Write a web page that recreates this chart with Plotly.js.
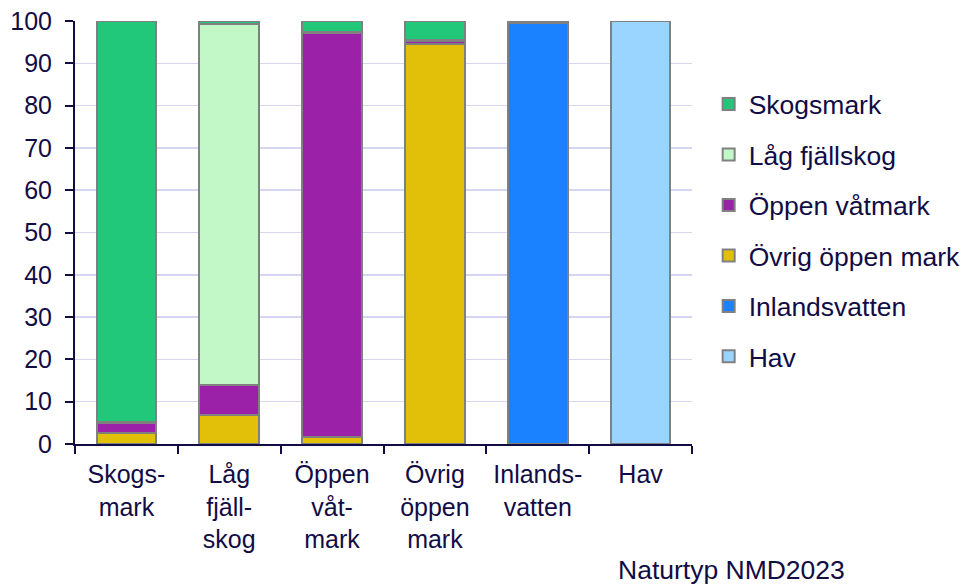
<!DOCTYPE html>
<html>
<head>
<meta charset="utf-8">
<script src="https://cdn.plot.ly/plotly-3.0.1.min.js"></script>
<style>html,body{margin:0;padding:0;background:#fff;}#chart{width:969px;height:585px;}</style>
</head>
<body>
<div id="chart"></div>
<script>
const categories = ["Skogs-<br>mark", "Låg<br>fjäll-<br>skog", "Öppen<br>våt-<br>mark", "Övrig<br>öppen<br>mark", "Inlands-<br>vatten", "Hav"];
const hav = [0, 0, 0, 0, 0, 100];
const inlandsvatten = [0, 0, 0, 0, 99.6, 0];
const ovrigOppenMark = [2.5, 6.9, 1.7, 94.6, 0, 0];
const oppenVatmark = [2.4, 7.0, 95.4, 0.7, 0, 0];
const lagFjallskog = [0.3, 85.5, 0.3, 0.3, 0, 0];
const skogsmark = [94.8, 0.6, 2.6, 4.4, 0.4, 0];
const axisTitle = "Naturtyp NMD2023";

const seriesNames = ["Hav", "Inlandsvatten", "Övrig öppen mark", "Öppen våtmark", "Låg fjällskog", "Skogsmark"];
const seriesValues = [hav, inlandsvatten, ovrigOppenMark, oppenVatmark, lagFjallskog, skogsmark];
const seriesColors = ["#99d5ff", "#1b82ff", "#e2c00a", "#9b22a8", "#c2f8c8", "#22c87a"];

const navy = "#120c45";
const fs = 25;
const fsText = 26.5;
const traces = seriesNames.map((n, i) => ({
  type: "bar",
  name: n,
  x: categories,
  y: seriesValues[i],
  legendgroup: "g" + i,
  legendrank: 100 - i,
  marker: {color: seriesColors[i], line: {color: "#808080", width: 2}},
  hoverinfo: "name+y"
}));

const layout = {
  width: 969, height: 585,
  margin: {l: 75, r: 277, t: 21, b: 141, autoexpand: false},
  barmode: "stack",
  bargap: 0.42,
  paper_bgcolor: "#fff", plot_bgcolor: "#fff",
  font: {family: "Liberation Sans, Arial, sans-serif", size: fs, color: navy},
  xaxis: {
    type: "category",
    tickson: "boundaries",
    tickangle: 0,
    ticks: "outside", ticklen: 8, tickwidth: 2, tickcolor: navy,
    showline: true, linecolor: navy, linewidth: 2,
    showgrid: false,
    ticklabelstandoff: 7,
    tickfont: {size: fs, color: navy},
    automargin: false
  },
  yaxis: {
    range: [0, 100], tickvals: [0,10,20,30,40,50,60,70,80,90,100],
    ticks: "outside", ticklen: 8, tickwidth: 2, tickcolor: navy,
    showline: true, linecolor: navy, linewidth: 2,
    gridcolor: "#d6d6f2", gridwidth: 1.5,
    zeroline: false,
    ticklabelstandoff: 8,
    tickfont: {size: fs, color: navy},
    automargin: false
  },
  legend: {
    x: 1.027, xanchor: "left", y: 0.505, yanchor: "middle",
    traceorder: "grouped",
    tracegroupgap: 13,
    font: {size: fsText, color: navy},
    itemwidth: 30
  },
  annotations: [{
    text: axisTitle, xref: "paper", yref: "paper", x: 1.0, y: 0, xanchor: "left", yanchor: "top",
    xshift: -76, yshift: -109, showarrow: false, font: {size: fsText, color: navy}
  }]
};

Plotly.newPlot("chart", traces, layout, {displayModeBar: false, staticPlot: true});
</script>
</body>
</html>
